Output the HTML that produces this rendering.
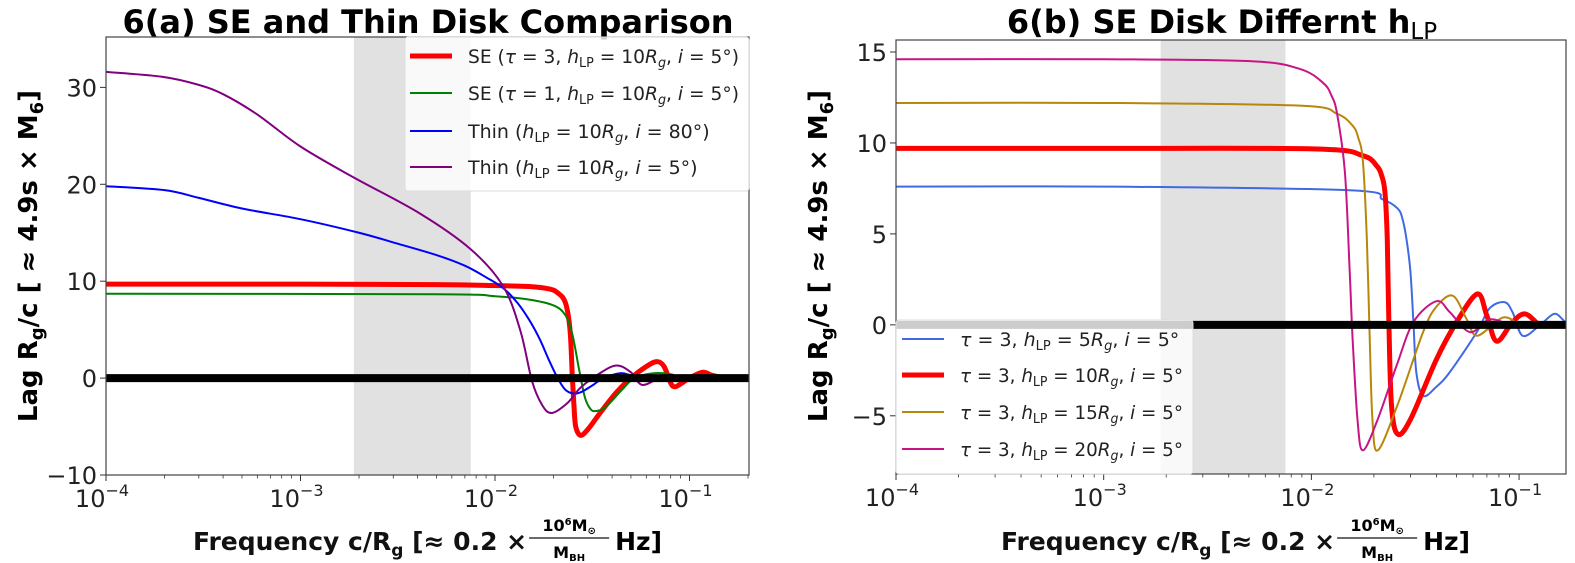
<!DOCTYPE html>
<html><head><meta charset="utf-8"><style>
body{margin:0;background:#fff}
svg{display:block;font-family:"DejaVu Sans","Liberation Sans",sans-serif}
</style></head><body>
<svg id="fig" width="1575" height="563" viewBox="0 0 1575 563" xmlns="http://www.w3.org/2000/svg">
<text x="428" y="33" text-anchor="middle" font-size="32" font-weight="bold">6(a) SE and Thin Disk Comparison</text>
<text x="1222" y="33" text-anchor="middle" font-size="32" font-weight="bold">6(b) SE Disk Differnt h<tspan font-weight="normal" font-size="23" dy="6">LP</tspan></text>
<g><text transform="translate(37,256) rotate(-90)" text-anchor="middle" font-size="26" font-weight="bold">Lag R<tspan font-size="18" dy="6">g</tspan><tspan dy="-6">/c [ ≈ 4.9s × M</tspan><tspan font-size="18" dy="6">6</tspan><tspan dy="-6">]</tspan></text></g>
<g><text transform="translate(827,256) rotate(-90)" text-anchor="middle" font-size="26" font-weight="bold">Lag R<tspan font-size="18" dy="6">g</tspan><tspan dy="-6">/c [ ≈ 4.9s × M</tspan><tspan font-size="18" dy="6">6</tspan><tspan dy="-6">]</tspan></text></g>
<g id="xl-a"></g>
<g id="xl-b"></g>
<g id="pa"></g>
<g id="pb"></g>
</svg>
<script>
// ---- Panel (a) data ----
const aRedF=[1e-4,1e-3,5e-3,0.01,0.015,0.019,0.021,0.023,0.0243,0.025,0.0255,0.026,0.0275,0.03,0.035,0.042,0.05,0.06,0.068,0.074,0.08,0.084,0.09,0.1,0.117,0.13,0.15];
const aRedL=[9.7,9.7,9.65,9.55,9.45,9.2,8.8,7.8,5,0,-3,-5,-5.9,-5.3,-3.5,-1.5,0,1.2,1.7,1.2,-0.5,-0.9,-0.6,0,0.6,0.3,0];
const aGreenF=[1e-4,0.005,0.01,0.015,0.02,0.023,0.025,0.027,0.029,0.031,0.033,0.037,0.045,0.052,0.065,0.08,0.09];
const aGreenL=[8.7,8.65,8.45,8.1,7.5,6.5,4.5,1,-2,-3.2,-3.4,-3.0,-1.2,0,0.5,0.4,0];
const aBlueF=[1e-4,2e-4,3e-4,5e-4,1e-3,2e-3,3e-3,5e-3,7e-3,0.009,0.011,0.013,0.015,0.017,0.019,0.021,0.023,0.0255,0.028,0.032,0.036,0.044,0.05,0.06];
const aBlueL=[19.8,19.4,18.6,17.5,16.4,15,14,12.7,11.6,10.4,9.3,7.8,6,4,1.8,0,-1.2,-1.6,-1.4,-0.7,0,0.5,0.3,0];
const aPurpF=[1e-4,1.94e-4,2.95e-4,4e-4,6e-4,1e-3,1.88e-3,4.1e-3,7.5e-3,0.011,0.0135,0.0155,0.0175,0.0196,0.0235,0.0275,0.034,0.042,0.05,0.057,0.07,0.08,0.1];
const aPurpL=[31.6,31.1,30.3,29.3,27.2,23.9,20.7,17,13.3,9.5,4.9,-0.3,-2.8,-3.6,-2.6,-1.0,0.4,1.3,0.6,-0.7,0,0.3,0];
// ---- Panel (b) data ----
const b5F=[1e-4,1e-3,0.0153,0.022,0.026,0.0275,0.0288,0.030,0.031,0.032,0.0345,0.040,0.0464,0.0626,0.072,0.085,0.093,0.104,0.125,0.147,0.162,0.17];
const b5L=[7.6,7.6,7.4,6.9,6.4,5.8,4.6,2.9,0.15,-2.6,-3.9,-3.4,-2.6,-0.4,0.9,1.25,0.7,-0.6,-0.05,0.6,0.3,0];
const b10F=[1e-4,1e-3,0.0106,0.0177,0.0206,0.0218,0.0226,0.0232,0.0236,0.0243,0.026,0.030,0.040,0.050,0.063,0.070,0.078,0.093,0.107,0.125,0.135];
const b10L=[9.7,9.7,9.67,9.3,8.75,8.2,7.3,4.7,0.3,-4.4,-6.0,-5.2,-1.9,0.15,1.7,0.5,-0.9,0.15,0.6,0,0];
const b15F=[1e-4,1e-3,8.8e-3,0.0133,0.0158,0.0168,0.0177,0.0185,0.0191,0.0197,0.0209,0.026,0.0345,0.040,0.048,0.056,0.063,0.0835,0.1];
const b15L=[12.2,12.2,12.05,11.6,10.95,10.3,9.0,4.7,-0.8,-5.3,-6.9,-4.4,-0.4,1.0,1.6,0.3,-0.6,0.4,0];
const b20F=[1e-4,1e-3,5.06e-3,8.8e-3,0.0114,0.0125,0.0133,0.0145,0.0153,0.0158,0.0167,0.0177,0.0207,0.0258,0.031,0.040,0.0464,0.058,0.072,0.09];
const b20L=[14.6,14.6,14.5,14.07,13.3,12.6,11.6,8.4,2.9,-0.8,-5.3,-6.9,-5.3,-2.2,0.15,1.3,0.7,-0.4,0.3,0];
const shadeRange=[1.88e-3,7.5e-3];
const aYTicks=[-10,0,10,20,30];
const bYTicks=[-5,0,5,10,15];
const xDecades=[-4,-3,-2,-1];

const NS="http://www.w3.org/2000/svg";
function mk(tag,attrs,parent){const e=document.createElementNS(NS,tag);for(const k in attrs)e.setAttribute(k,attrs[k]);parent.appendChild(e);return e;}
function smooth(pts){let d="M"+pts[0][0].toFixed(2)+","+pts[0][1].toFixed(2);
 for(let i=0;i<pts.length-1;i++){const p0=pts[Math.max(0,i-1)],p1=pts[i],p2=pts[i+1],p3=pts[Math.min(pts.length-1,i+2)];
  const c1=[p1[0]+(p2[0]-p0[0])/6,p1[1]+(p2[1]-p0[1])/6],c2=[p2[0]-(p3[0]-p1[0])/6,p2[1]-(p3[1]-p1[1])/6];
  d+="C"+c1.map(v=>v.toFixed(2)).join(",")+" "+c2.map(v=>v.toFixed(2)).join(",")+" "+p2[0].toFixed(2)+","+p2[1].toFixed(2);}
 return d;}

function panel(g,cfg){
 const L=cfg.L,R=cfg.R,T=cfg.T,B=cfg.B;
 const lx0=-4,lx1=cfg.lxmax;
 const X=f=>L+(Math.log10(f)-lx0)/(lx1-lx0)*(R-L);
 const Y=v=>B-(v-cfg.ymin)/(cfg.ymax-cfg.ymin)*(B-T);
 const cid="clip"+cfg.id;
 const cp=mk("clipPath",{id:cid},g);mk("rect",{x:L,y:T,width:R-L,height:B-T},cp);
 const sh=mk("rect",{x:X(shadeRange[0]),y:T,width:X(shadeRange[1])-X(shadeRange[0]),height:B-T,fill:"#e1e1e1"},g);
 
 
 const cg=mk("g",{"clip-path":"url(#"+cid+")"},g);
 cfg.series.forEach(s=>{
  const pts=s.f.map((f,i)=>[X(f),Y(s.l[i])]);
  const p=mk("path",{d:smooth(pts),fill:"none",stroke:s.c,"stroke-width":s.w,"stroke-linejoin":"round","stroke-linecap":"round"},cg);
  
  
 });
 const z=mk("line",{x1:L,x2:R,y1:Y(0),y2:Y(0),stroke:"#000","stroke-width":8},cg);
 
 
 const fr=mk("rect",{x:L,y:T,width:R-L,height:B-T,fill:"none",stroke:"#444","stroke-width":1.2},g);
 
 
 cfg.yticks.forEach(v=>{const y=Y(v);
  mk("line",{x1:L-6,x2:L,y1:y,y2:y,stroke:"#333","stroke-width":1},g);
  const t=mk("text",{x:L-9,y:y+9,"text-anchor":"end","font-size":24,fill:"#222"},g);t.textContent=(v<0?"\u2212"+(-v):String(v));
  
  
 });
 xDecades.forEach(d=>{const x=X(Math.pow(10,d));
  mk("line",{x1:x,x2:x,y1:B,y2:B+6,stroke:"#333","stroke-width":1},g);
  const t=mk("text",{x:x-4,y:B+32,"text-anchor":"middle","font-size":24,fill:"#222"},g);
  
  
  t.textContent="10";const s=mk("tspan",{"font-size":16,dy:-11},t);s.textContent="\u2212"+(-d);
  for(let k=2;k<10;k++){const xm=X(k*Math.pow(10,d));if(xm<=R+0.5)mk("line",{x1:xm,x2:xm,y1:B,y2:B+3.5,stroke:"#333","stroke-width":0.8},g);}
 });
 const lg=mk("g",{},g);
 
 
 mk("rect",{x:cfg.lg.x,y:cfg.lg.y,width:cfg.lg.w,height:cfg.lg.h,fill:"#fff","fill-opacity":0.8,stroke:"#ddd","stroke-width":1,rx:3},lg);
 cfg.series.forEach((s,i)=>{const y=cfg.lg.rows[i];
  const e=mk("g",{},lg);
  
  
  mk("line",{x1:cfg.lg.lx,x2:cfg.lg.lx+42,y1:y,y2:y,stroke:s.c,"stroke-width":s.w},e);
  const t=mk("text",{x:cfg.lg.lx+58,y:y+7,"font-size":19,fill:"#222"},e);t.innerHTML=s.label;
  const tw=t.getComputedTextLength();const maxw=cfg.lg.x+cfg.lg.w-(cfg.lg.lx+58)-10;
  if(tw>maxw){t.setAttribute("textLength",maxw);t.setAttribute("lengthAdjust","spacingAndGlyphs");}
 });
}
const H=(n)=>'<tspan font-style="italic">h</tspan><tspan font-size="13" dy="4">LP</tspan><tspan dy="-4"> = '+n+'</tspan><tspan font-style="italic">R</tspan><tspan font-size="13" font-style="italic" dy="4">g</tspan><tspan dy="-4">, </tspan><tspan font-style="italic">i</tspan> = ';
panel(document.getElementById("pa"),{id:"a",L:106,R:749,T:37,B:475,lxmax:-0.694,ymin:-10,ymax:35.2,yticks:aYTicks,
 series:[
  {f:aRedF,l:aRedL,c:"#ff0000",w:5,name:"se-tau3-line",label:'SE (<tspan font-style="italic">τ</tspan> = 3, '+H(10)+'5°)'},
  {f:aGreenF,l:aGreenL,c:"#008000",w:2,name:"se-tau1-line",label:'SE (<tspan font-style="italic">τ</tspan> = 1, '+H(10)+'5°)'},
  {f:aBlueF,l:aBlueL,c:"#0000ff",w:2,name:"thin-i80-line",label:'Thin ('+H(10)+'80°)'},
  {f:aPurpF,l:aPurpL,c:"#800080",w:2,name:"thin-i5-line",label:'Thin ('+H(10)+'5°)'}],
 lg:{x:405,y:37,w:344,h:154,lx:410,rows:[56,93,131,167]}});
panel(document.getElementById("pb"),{id:"b",L:896,R:1566,T:40,B:474,lxmax:-0.774,ymin:-8.2,ymax:15.66,yticks:bYTicks,
 series:[
  {f:b5F,l:b5L,c:"#4169e1",w:2,name:"hlp5-line",label:'<tspan font-style="italic">τ</tspan> = 3, '+H(5)+'5°'},
  {f:b10F,l:b10L,c:"#ff0000",w:5,name:"hlp10-line",label:'<tspan font-style="italic">τ</tspan> = 3, '+H(10)+'5°'},
  {f:b15F,l:b15L,c:"#b8860b",w:2,name:"hlp15-line",label:'<tspan font-style="italic">τ</tspan> = 3, '+H(15)+'5°'},
  {f:b20F,l:b20L,c:"#c71585",w:2,name:"hlp20-line",label:'<tspan font-style="italic">τ</tspan> = 3, '+H(20)+'5°'}],
 lg:{x:896,y:320,w:297,h:154,lx:902,rows:[339,375,412,449]}});
function xlabel(g,x0){
 const t=mk("text",{x:x0,y:550,"font-size":25,"font-weight":"bold",fill:"#111"},g);
 t.innerHTML='Frequency c/R<tspan font-size="17" dy="6">g</tspan><tspan dy="-6"> [≈ 0.2 × </tspan>';
 const nx=x0+t.getComputedTextLength()+2;
 const n=mk("text",{x:nx+40,y:531,"font-size":16,"font-weight":"bold","text-anchor":"middle"},g);n.innerHTML='10<tspan font-size="10" dy="-6">6</tspan><tspan dy="6">M</tspan><tspan font-size="10" dy="3">⊙</tspan>';
 mk("line",{x1:nx,x2:nx+80,y1:538,y2:538,stroke:"#111","stroke-width":1.3},g);
 const dn=mk("text",{x:nx+40,y:558,"font-size":16,"font-weight":"bold","text-anchor":"middle"},g);dn.innerHTML='M<tspan font-size="10" dy="3">BH</tspan>';
 const e=mk("text",{x:nx+86,y:550,"font-size":25,"font-weight":"bold"},g);e.textContent="Hz]";
}
xlabel(document.getElementById("xl-a"),193);
xlabel(document.getElementById("xl-b"),1001);
</script>
</body></html>
